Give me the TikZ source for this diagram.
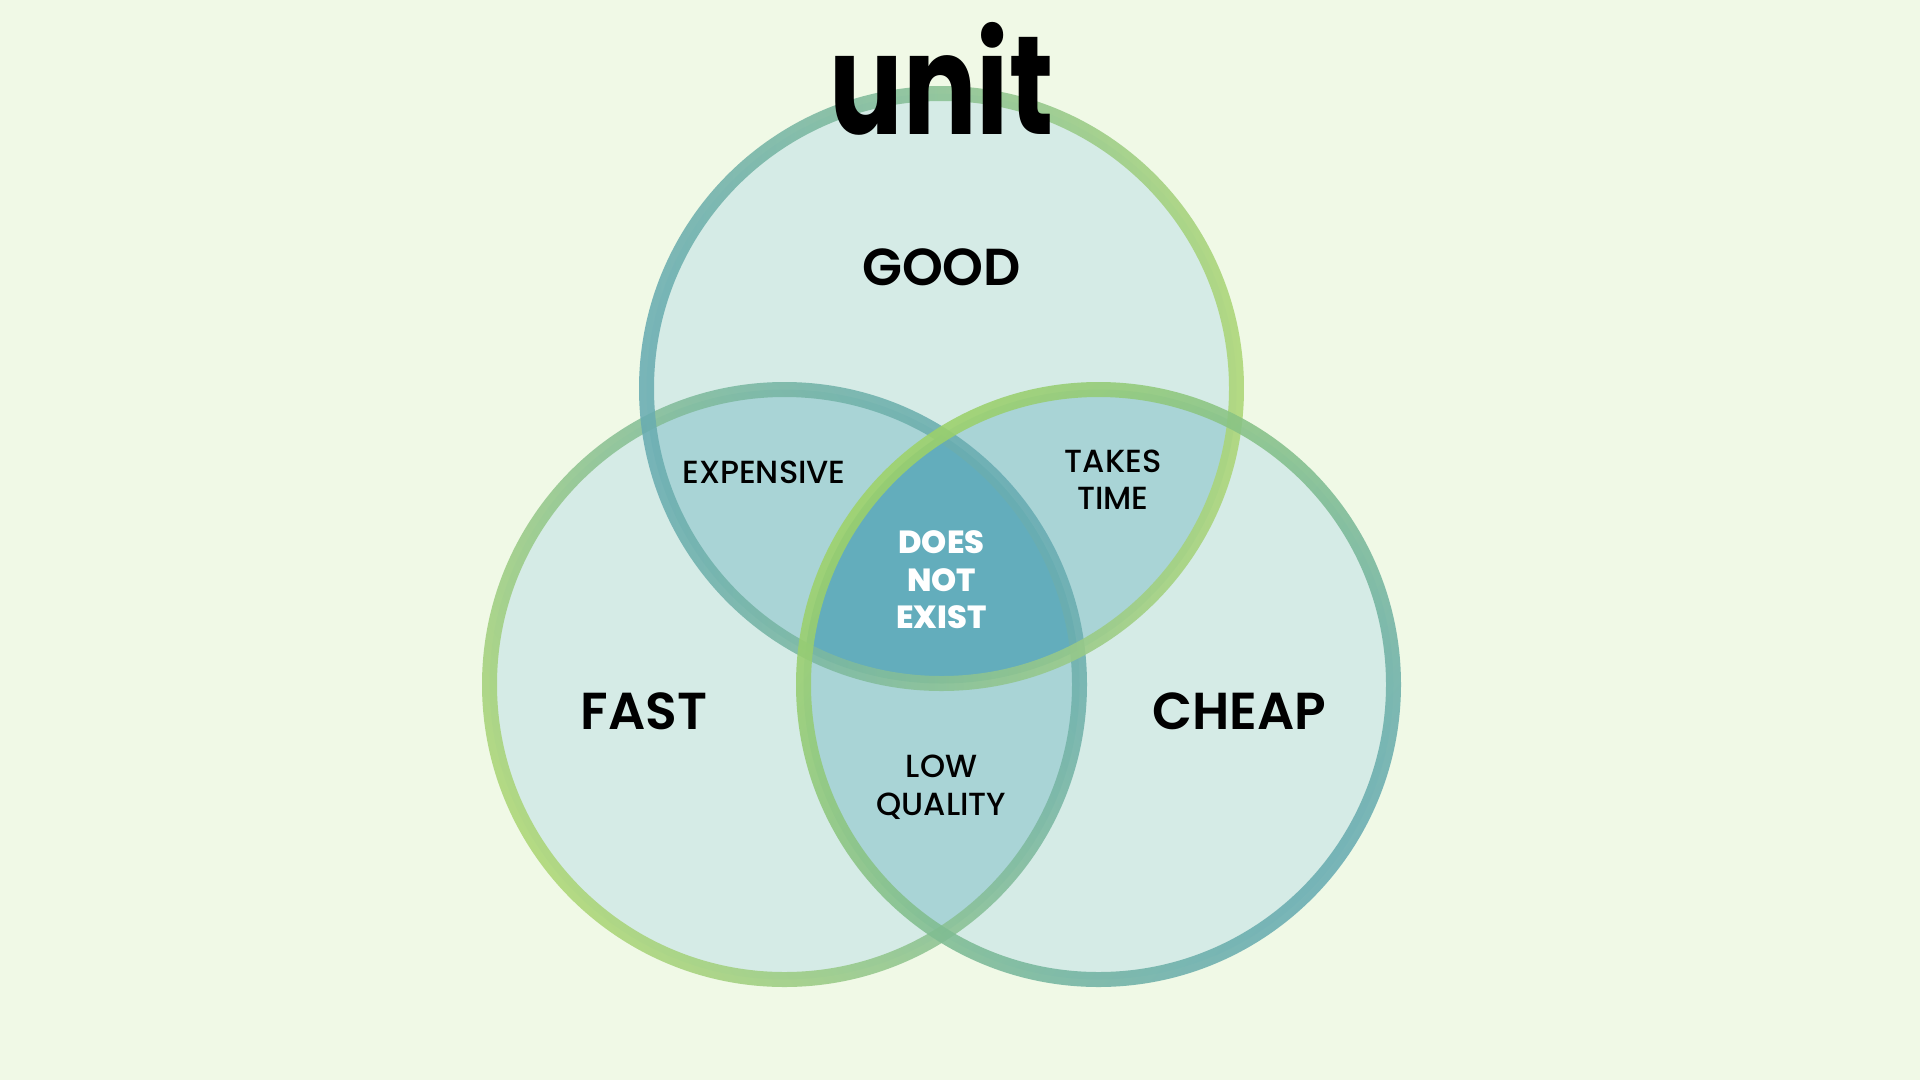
\documentclass[tikz,border=0pt]{standalone}
\usepackage{fontspec}
\setmainfont{Poppins}
\newfontfamily\semif{Poppins SemiBold}
\newfontfamily\medf{Poppins Medium}
\newfontfamily\heavyf{Poppins ExtraBold}
\newfontfamily\logof{Poppins Bold}
\definecolor{bgc}{RGB}{240,249,230}
\definecolor{onec}{RGB}{213,235,230}
\definecolor{twoc}{RGB}{169,212,214}
\definecolor{threec}{RGB}{99,173,188}
\definecolor{gr}{RGB}{172,214,118}
\definecolor{grd}{RGB}{158,210,104}
\definecolor{te}{RGB}{104,172,178}
\tikzset{
 x=1pt,y=-1pt,
 big/.style={font=\semif\fontsize{52}{52}\selectfont,text=black,inner sep=0pt},
 mid/.style={font=\medf\fontsize{32}{37.5}\selectfont,text=black,align=center,inner sep=0pt},
 heavy/.style={font=\heavyf\fontsize{32}{37.5}\selectfont,text=white,align=center,inner sep=0pt},
 ring/.style={even odd rule,fill opacity=.88}
}
\def\CT{(941.5,388.5)}
\def\CL{(784.5,684.5)}
\def\CR{(1098.5,684.5)}
\begin{document}
\begin{tikzpicture}
\useasboundingbox (0,0) rectangle (1920,1080);
\fill[bgc] (0,0) rectangle (1920,1080);
\fill[onec] \CT circle[radius=295pt];
\fill[onec] \CL circle[radius=295pt];
\fill[onec] \CR circle[radius=295pt];
\begin{scope}\clip \CT circle[radius=295pt]; \fill[twoc] \CL circle[radius=295pt]; \fill[twoc] \CR circle[radius=295pt];\end{scope}
\begin{scope}\clip \CL circle[radius=295pt]; \fill[twoc] \CR circle[radius=295pt];\end{scope}
\begin{scope}\clip \CT circle[radius=295pt]; \clip \CL circle[radius=295pt]; \fill[threec] \CR circle[radius=295pt];\end{scope}
% rings
\path[shade,ring,left color=gr,right color=te,shading angle=125] \CL circle[radius=302.5pt] \CL circle[radius=287.5pt];
\path[shade,ring,left color=te,right color=gr,shading angle=90] \CT circle[radius=302.5pt] \CT circle[radius=287.5pt];
\path[shade,ring,left color=grd,middle color=gr!85!te,right color=te,shading angle=50] \CR circle[radius=302.5pt] \CR circle[radius=287.5pt];
% logo
\node[inner sep=0pt,text=black,xscale=.78,anchor=base] (logo) at (941.5,134.5) {\logof\fontsize{140}{140}\selectfont unit};
% labels
\node[big] (good) at (941.5,267) {GOOD};
\node[big] (fast) at (644,711) {FAST};
\node[big] (cheap) at (1239,711) {CHEAP};
\node[mid] (exp) at (764,472.5) {EXPENSIVE};
\node[mid] (takes) at (1113,479.5) {TAKES\\TIME};
\node[mid] (low) at (941.5,787) {LOW\\QUALITY};
\node[heavy] (dne) at (941.5,580) {DOES\\NOT\\EXIST};
\end{tikzpicture}
\end{document}
